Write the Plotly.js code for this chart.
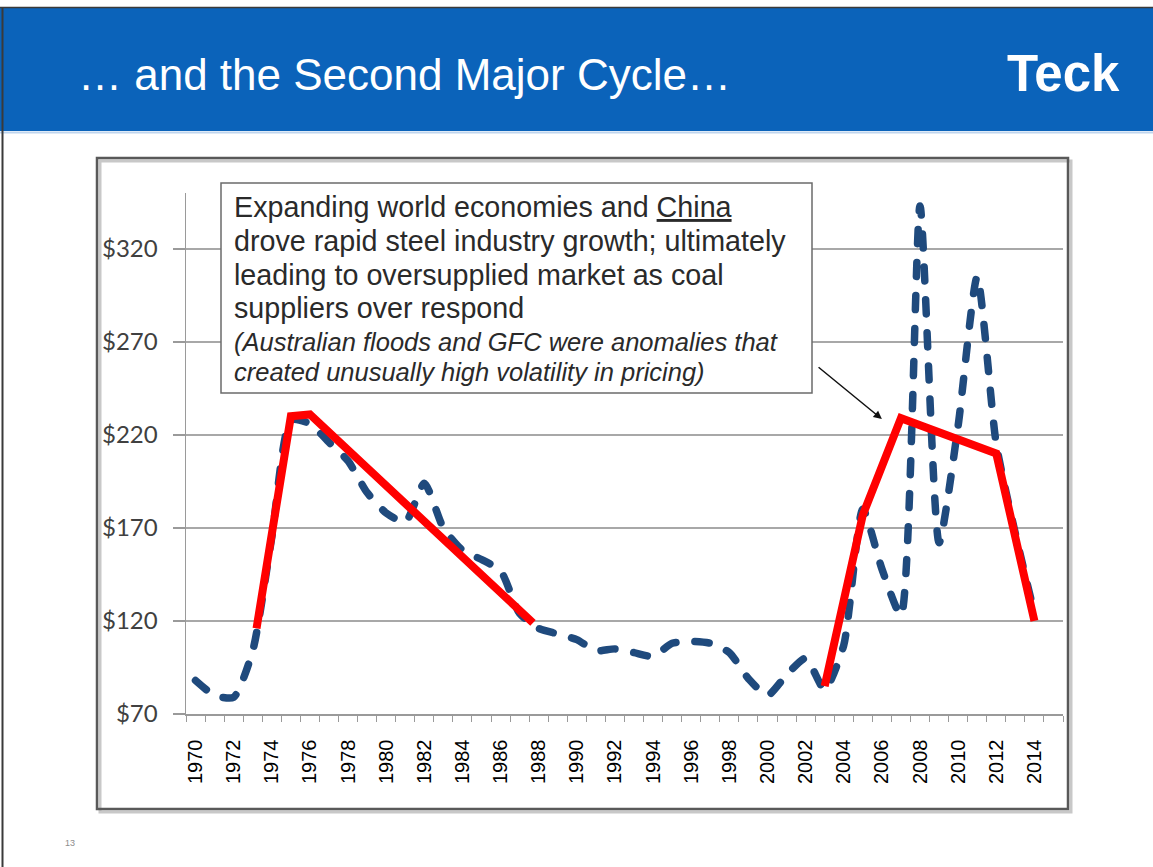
<!DOCTYPE html>
<html>
<head>
<meta charset="utf-8">
<script src="https://cdn.plot.ly/plotly-3.0.1.min.js"></script>
<style>
  html, body { margin: 0; padding: 0; background: #ffffff; }
  #chart { width: 1153px; height: 867px; }
</style>
</head>
<body>
<div id="chart"></div>
<script>
// Annual hard coking coal price (US$/t), 1970-2014
const years = [1970, 1971, 1972, 1973, 1974, 1975, 1976, 1977, 1978, 1979,
               1980, 1981, 1982, 1983, 1984, 1985, 1986, 1987, 1988, 1989,
               1990, 1991, 1992, 1993, 1994, 1995, 1996, 1997, 1998, 1999,
               2000, 2001, 2002, 2003, 2004, 2005, 2006, 2007, 2008, 2009,
               2010, 2011, 2012, 2013, 2014];
const coalPrice = [88, 80, 79, 104, 165, 228, 226, 216, 206, 189,
                   178, 173, 194, 170, 158, 153, 147, 124, 116, 113,
                   110, 104, 105, 103, 101, 108, 109, 108, 103, 89,
                   80, 91, 100, 83, 107, 180, 148, 123, 343, 162,
                   225, 305, 215, 167, 124];

// Cycle trend lines drawn over the price series (first and second cycle)
const cycle1Years = [1973.2, 1975, 1976, 1987.7];
const cycle1Price = [116, 230, 231, 119];
const cycle2Years = [2003, 2005, 2007, 2012, 2014];
const cycle2Price = [85, 177, 229, 210, 120];

// Axis labels
const xTickYears = years.filter(y => y % 2 === 0);
const xTickLabels = xTickYears.map(String);
const yTickValues = [70, 120, 170, 220, 270, 320];
const yTickLabels = yTickValues.map(v => '$' + v);

// Slide text
const slideTitle = '\u2026 and the Second Major Cycle\u2026';
const logoText = 'Teck';
const pageNumber = '13';
const calloutLines = [
  'Expanding world economies and <span style="text-decoration:underline">China</span>',
  'drove rapid steel industry growth; ultimately',
  'leading to oversupplied market as coal',
  'suppliers over respond'
];
const calloutNotes = [
  '(Australian floods and GFC were anomalies that',
  'created unusually high volatility in pricing)'
];

// ---- page geometry (pixels) ----
const W = 1153, H = 867;
const L = 186, R = 1063, T = 193, B = 714;   // plot area
const px = x => (x - L) / (R - L);
const py = y => (B - y) / (B - T);

const ARIAL = 'Liberation Sans, Arial, sans-serif';

const shapes = [
  // slide header band
  { type: 'rect', xref: 'paper', yref: 'paper', layer: 'below',
    x0: px(0), x1: px(W), y0: py(131), y1: py(8),
    fillcolor: '#0B63BA', line: { width: 0 } },
  { type: 'line', xref: 'paper', yref: 'paper', layer: 'below',
    x0: px(0), x1: px(W), y0: py(132.5), y1: py(132.5),
    line: { color: '#BFD5EE', width: 2 } },
  { type: 'line', xref: 'paper', yref: 'paper', layer: 'below',
    x0: px(0), x1: px(W), y0: py(7.5), y1: py(7.5),
    line: { color: '#3a3a3a', width: 1.5 } },
  // slide left edge
  { type: 'line', xref: 'paper', yref: 'paper', layer: 'below',
    x0: px(2.5), x1: px(2.5), y0: py(7), y1: py(H),
    line: { color: '#3a3a3a', width: 2 } },
  // chart frame shadow and border
  { type: 'rect', xref: 'paper', yref: 'paper', layer: 'below',
    x0: px(100), x1: px(1071), y0: py(812), y1: py(161),
    fillcolor: 'rgba(0,0,0,0)', line: { color: '#c8c8c8', width: 3 } },
  { type: 'rect', xref: 'paper', yref: 'paper', layer: 'below',
    x0: px(97), x1: px(1068), y0: py(809), y1: py(158),
    fillcolor: 'rgba(0,0,0,0)', line: { color: '#595959', width: 2.5 } },
  // callout box
  { type: 'rect', xref: 'paper', yref: 'paper', layer: 'above',
    x0: px(221), x1: px(812), y0: py(393), y1: py(183),
    fillcolor: '#ffffff', line: { color: '#6b6b6b', width: 1.5 } }
];

const annotations = [
  { xref: 'paper', yref: 'paper', x: px(76), y: py(74), xanchor: 'left', yanchor: 'middle',
    text: slideTitle, showarrow: false,
    font: { family: ARIAL, size: 44, color: '#ffffff' } },
  { xref: 'paper', yref: 'paper', x: px(1122), y: py(73), xanchor: 'right', yanchor: 'middle',
    text: '<b>' + logoText + '</b>', showarrow: false,
    font: { family: ARIAL, size: 51, color: '#ffffff' } },
  { xref: 'paper', yref: 'paper', x: px(70), y: py(843), xanchor: 'center', yanchor: 'middle',
    text: pageNumber, showarrow: false,
    font: { family: ARIAL, size: 9, color: '#8c8c8c' } },
  // arrow from callout to the second-cycle peak
  { xref: 'x', yref: 'y', axref: 'x', ayref: 'y',
    x: 2006.0, y: 228.5, ax: 2002.6, ay: 257,
    text: '', showarrow: true, arrowhead: 2, arrowsize: 1.1, arrowwidth: 1.5,
    arrowcolor: '#111111', standoff: 0, startstandoff: 0 }
];

const calloutY = [207, 241, 275, 308];
calloutLines.forEach((t, i) => annotations.push({
  xref: 'paper', yref: 'paper', x: px(232), y: py(calloutY[i]),
  xanchor: 'left', yanchor: 'middle', text: t, showarrow: false,
  font: { family: ARIAL, size: 28.7, color: '#2a2a2a' }
}));
const noteY = [342, 372];
calloutNotes.forEach((t, i) => annotations.push({
  xref: 'paper', yref: 'paper', x: px(232), y: py(noteY[i]),
  xanchor: 'left', yanchor: 'middle', text: '<i>' + t + '</i>', showarrow: false,
  font: { family: ARIAL, size: 25.5, color: '#2a2a2a' }
}));

const traces = [
  {
    type: 'scatter', mode: 'lines', name: 'Coal price',
    x: years, y: coalPrice,
    line: { color: '#1F4A7D', width: 7.5, dash: '14px,19px', shape: 'spline', smoothing: 0.6 },
    hoverinfo: 'skip'
  },
  {
    type: 'scatter', mode: 'lines', name: 'Cycle 1',
    x: cycle1Years, y: cycle1Price,
    line: { color: '#FF0000', width: 8 }, hoverinfo: 'skip'
  },
  {
    type: 'scatter', mode: 'lines', name: 'Cycle 2',
    x: cycle2Years, y: cycle2Price,
    line: { color: '#FF0000', width: 8 }, hoverinfo: 'skip'
  }
];

const layout = {
  width: W, height: H,
  margin: { l: L, r: W - R, t: T, b: H - B, pad: 0 },
  paper_bgcolor: '#ffffff', plot_bgcolor: '#ffffff',
  showlegend: false,
  xaxis: {
    type: 'linear', range: [1969.5, 2015.5], fixedrange: true,
    tickmode: 'array', tickvals: xTickYears, ticktext: xTickLabels,
    tickangle: -90, ticks: '', ticklabelstandoff: 16,
    tickfont: { family: ARIAL, size: 20, color: '#000000' },
    showgrid: false, zeroline: false,
    showline: true, linecolor: '#9a9a9a', linewidth: 1.5,
    minor: { tick0: 1969.5, dtick: 1, ticks: 'outside', ticklen: 6,
             tickcolor: '#9a9a9a', tickwidth: 1, showgrid: false }
  },
  yaxis: {
    range: [70, 350], fixedrange: true,
    tickmode: 'array', tickvals: yTickValues, ticktext: yTickLabels,
    ticks: 'outside', ticklen: 12, tickcolor: '#9a9a9a', tickwidth: 1.5,
    ticklabelstandoff: 10,
    tickfont: { family: 'Lato, sans-serif', size: 24, color: '#404040' },
    showgrid: true, gridcolor: '#a8a8a8', gridwidth: 1.5,
    zeroline: false, showline: true, linecolor: '#9a9a9a', linewidth: 1.5
  },
  shapes: shapes,
  annotations: annotations
};

Plotly.newPlot('chart', traces, layout, { staticPlot: true, displayModeBar: false })
  .then(() => {
    // rounded dash ends on the price series, as in the office chart style
    document.querySelectorAll('.scatterlayer .trace path.js-line').forEach((p, i) => {
      p.style.strokeLinecap = i === 0 ? 'round' : 'butt';
      p.style.strokeLinejoin = i === 0 ? 'round' : 'miter';
    });
  });
</script>
</body>
</html>
